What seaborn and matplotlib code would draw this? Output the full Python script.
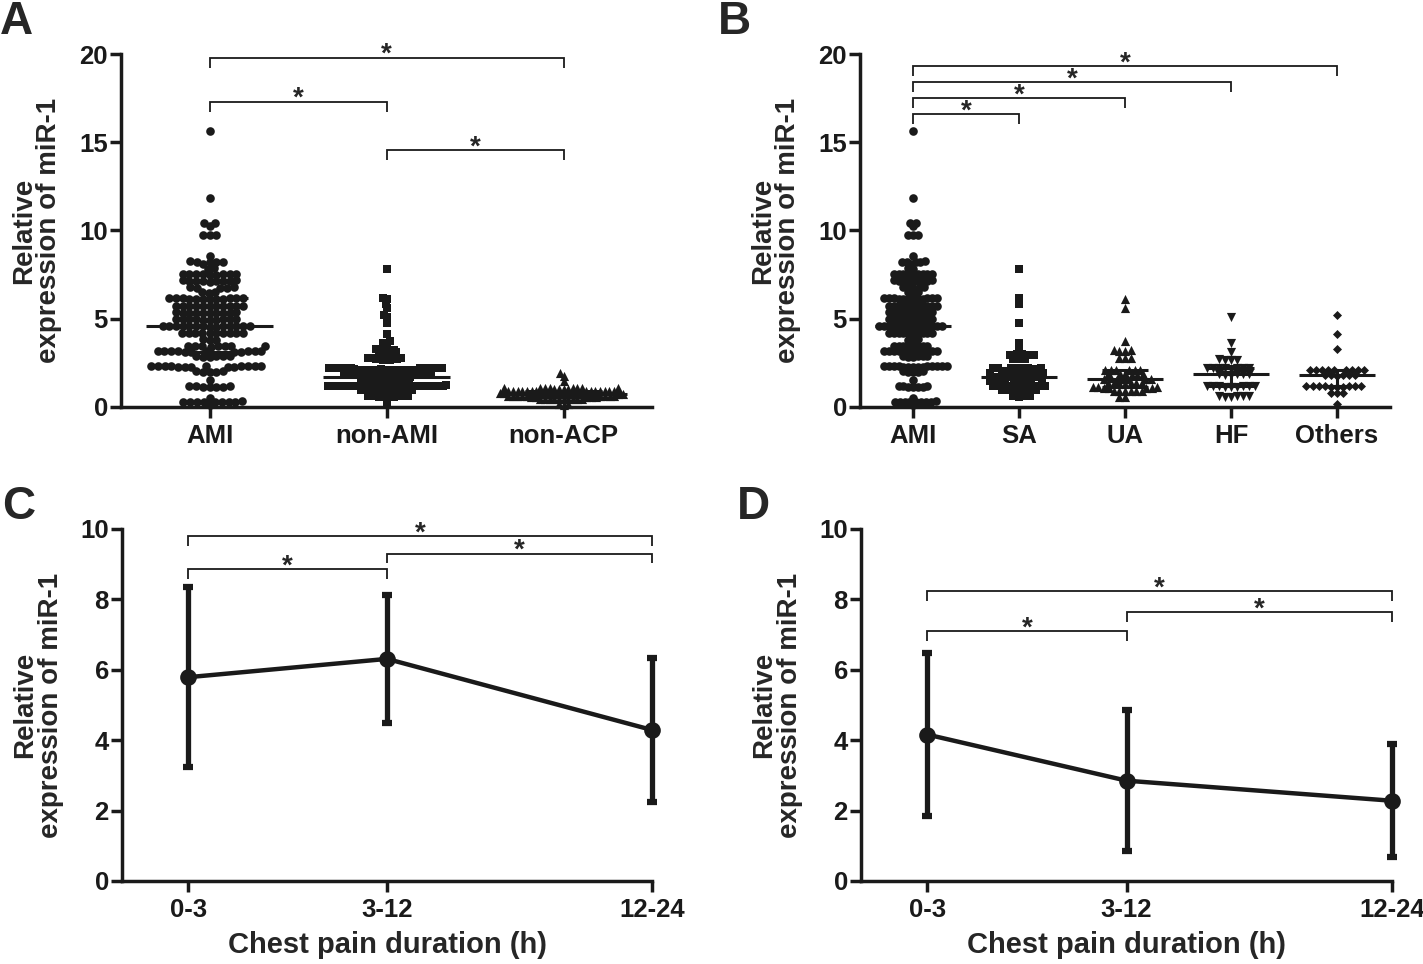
import matplotlib
matplotlib.use("Agg")
import matplotlib.pyplot as plt
from matplotlib import font_manager
import numpy as np
import pandas as pd
import seaborn as sns

# ---- panel A / B: relative miR-1 expression per patient group ----
ami = [
    15.65, 11.85, 10.45, 10.43, 10.25, 9.77, 9.75, 9.73, 8.57,
    8.24, 8.21, 8.19, 8.23, 8.28, 8.08, 7.86, 7.84,
    7.55, 7.53, 7.51, 7.54, 7.50, 7.52, 7.56, 7.49, 7.53,
    7.16, 7.14, 7.15, 7.12, 7.18, 7.15, 7.13, 7.17, 7.11,
    6.78, 6.77, 6.75, 6.80, 6.76, 6.52, 6.50, 6.48,
    6.15, 6.14, 6.16, 6.13, 6.15, 6.17, 6.12, 6.14, 6.16, 6.15, 6.13, 6.14,
    5.73, 5.71, 5.72, 5.74, 5.70, 5.72, 5.73, 5.71, 5.72, 5.74, 5.70,
    5.35, 5.33, 5.34, 5.36, 5.32, 5.34, 5.35, 5.33, 5.34, 5.36,
    4.97, 4.95, 4.96, 4.98, 4.94, 4.96, 4.97, 4.95, 4.96, 4.98,
    4.59, 4.57, 4.58, 4.60, 4.56, 4.58, 4.59, 4.57, 4.58, 4.60, 4.56, 4.58, 4.59, 4.57,
    4.21, 4.19, 4.20, 4.22, 4.18, 4.20, 4.21, 4.19, 4.20, 4.22,
    3.83, 3.81, 3.82,
    3.45, 3.43, 3.44, 3.46, 3.42, 3.44, 3.45, 3.43,
    3.16, 3.14, 3.15, 3.17, 3.13, 3.15, 3.16, 3.14, 3.15, 3.17, 3.13, 3.15,
    2.88, 2.86, 2.87, 2.89, 2.85, 2.87,
    2.31, 2.29, 2.30, 2.32, 2.28, 2.30, 2.31, 2.29, 2.30, 2.32, 2.28, 2.30, 2.31, 2.29,
    2.02, 2.00, 2.01, 2.03, 1.99,
    1.54,
    1.17, 1.15, 1.16, 1.18, 1.14, 1.16, 1.17,
    0.50,
    0.31, 0.29, 0.30, 0.32, 0.28, 0.30, 0.31, 0.29, 0.30,
    0.11,
]
sa = [
    7.80, 6.19, 5.81, 4.77, 3.63, 3.25,
    2.98, 2.96, 2.97, 2.99, 2.95, 2.73, 2.71, 2.72,
    2.21, 2.19, 2.20, 2.22, 2.18, 2.20, 2.21, 2.19,
    1.96, 1.94, 1.95, 1.97, 1.93, 1.95, 1.96, 1.94,
    1.71, 1.69, 1.70, 1.72, 1.68, 1.70, 1.71, 1.69,
    1.46, 1.44, 1.45, 1.47, 1.43, 1.45, 1.46, 1.44,
    1.21, 1.19, 1.20, 1.22, 1.18, 1.20, 1.21, 1.19,
    0.96, 0.94, 0.95, 0.97, 0.93, 0.95, 0.96,
    0.61, 0.59, 0.60, 0.62,
]
ua = [
    6.10, 5.62, 3.73, 3.21, 3.19, 3.20, 3.22, 2.79, 2.77, 2.78,
    2.11, 2.09, 2.10, 2.12, 2.08, 2.10,
    1.86, 1.84, 1.85, 1.87, 1.83, 1.85,
    1.61, 1.59, 1.60, 1.62, 1.58, 1.60, 1.61,
    1.36, 1.34, 1.35, 1.37, 1.33, 1.35, 1.36,
    1.11, 1.09, 1.10, 1.12, 1.08, 1.10, 1.11,
    0.91, 0.89, 0.90, 0.92, 0.88, 0.90,
    0.56, 0.54,
]
hf = [
    5.10, 3.63, 3.12, 2.69, 2.67, 2.68, 2.70,
    2.21, 2.19, 2.20, 2.22, 2.18, 2.20, 2.21, 2.19,
    1.86, 1.84, 1.85, 1.87, 1.83, 1.85,
    1.18, 1.16, 1.17, 1.19, 1.15, 1.17, 1.18, 1.16, 1.17,
    0.61, 0.59, 0.60, 0.62, 0.58, 0.60,
]
others = [
    5.24, 4.14, 3.29,
    2.11, 2.09, 2.10, 2.12, 2.08, 2.10, 2.11, 2.09, 2.10,
    1.81, 1.79, 1.80, 1.82, 1.78, 1.80,
    1.18, 1.16, 1.17, 1.19, 1.15, 1.17, 1.18, 1.16, 1.17, 1.19,
    0.81, 0.79, 0.80,
    0.17,
]
non_acp = [
    1.94, 1.75, 1.46,
    1.06, 1.04, 1.05, 1.07, 1.03, 1.05, 1.06, 1.04, 1.05, 1.07, 1.03, 1.05,
    0.91, 0.89, 0.90, 0.92, 0.88, 0.90, 0.91, 0.89, 0.90, 0.92, 0.88, 0.90, 0.91, 0.89,
    0.76, 0.74, 0.75, 0.77, 0.73, 0.75, 0.76, 0.74, 0.75, 0.77, 0.73, 0.75, 0.76, 0.74,
    0.61, 0.59, 0.60, 0.62, 0.58, 0.60, 0.61, 0.59, 0.60, 0.62, 0.58, 0.60, 0.61, 0.59,
    0.46, 0.44, 0.45, 0.47, 0.43, 0.45, 0.46, 0.44, 0.45, 0.47,
    0.16, 0.14, 0.15,
]
non_ami = sa + ua + hf + others

groups_a = ["AMI", "non-AMI", "non-ACP"]
groups_b = ["AMI", "SA", "UA", "HF", "Others"]

# ---- panel C / D: mean +/- SD by chest pain duration ----
durations = ["0-3", "3-12", "12-24"]
duration_pos = [1, 4, 8]
mean_c = [5.79, 6.31, 4.29]
sd_c = [2.56, 1.82, 2.04]
mean_d = [4.16, 2.85, 2.28]
sd_d = [2.32, 2.00, 1.60]

# significance pairs (group index pairs) and bracket heights
sig_a = [((0, 2), 19.8), ((0, 1), 17.3), ((1, 2), 14.55)]
sig_b = [((0, 4), 19.3), ((0, 3), 18.4), ((0, 2), 17.5), ((0, 1), 16.6)]
sig_c = [((0, 2), 9.8), ((1, 2), 9.3), ((0, 1), 8.85)]
sig_d = [((0, 2), 8.23), ((1, 2), 7.63), ((0, 1), 7.09)]


def _has_font(name):
    try:
        font_manager.findfont(font_manager.FontProperties(family=name), fallback_to_default=False)
        return True
    except ValueError:
        return False


NARROW = "Liberation Sans Narrow" if _has_font("Liberation Sans Narrow") else "Liberation Sans"
WIDE = ["Liberation Sans", "DejaVu Sans"]

sns.set_theme(style="ticks")
plt.rcParams["font.family"] = [NARROW, "DejaVu Sans"]
plt.rcParams["font.weight"] = "bold"
plt.rcParams["axes.labelweight"] = "bold"

fig = plt.figure(figsize=(14.23, 9.64), dpi=100)
W, H = 1423, 964


def add_axes(left, right, top, bottom):
    return fig.add_axes([left / W, 1 - bottom / H, (right - left) / W, (bottom - top) / H])


ax_a = add_axes(121, 652, 54, 407)
ax_b = add_axes(860, 1390, 54, 407)
ax_c = add_axes(122, 652, 529, 881)
ax_d = add_axes(861, 1392, 529, 881)


def style_axis(ax, ylim, yticks):
    ax.set_ylim(*ylim)
    ax.set_yticks(yticks)
    for side in ("top", "right"):
        ax.spines[side].set_visible(False)
    for side in ("left", "bottom"):
        ax.spines[side].set_linewidth(2.5)
        ax.spines[side].set_color("k")
    ax.tick_params(axis="both", direction="out", length=8, width=2.5, labelsize=18.5, colors="k")
    ax.tick_params(axis="y", pad=1.5)
    ax.tick_params(axis="x", pad=4)
    ax.set_ylabel("Relative\nexpression of miR-1", fontsize=20, fontweight="bold",
                  family=WIDE, labelpad=12, linespacing=0.95)


def bracket(ax, x1, x2, y, drop):
    ax.plot([x1, x1, x2, x2], [y - drop, y, y, y - drop], color="k", lw=1.3,
            clip_on=False, solid_joinstyle="miter", solid_capstyle="butt")
    ax.annotate("*", xy=((x1 + x2) / 2, y), xytext=(0, -3), textcoords="offset points",
                ha="center", va="baseline", fontsize=20, fontweight="bold",
                family=WIDE, annotation_clip=False)


def swarm(ax, groups, values, markers, layout_sizes):
    df = pd.DataFrame({
        "group": np.repeat(groups, [len(v) for v in values]),
        "value": np.concatenate([np.asarray(v, dtype=float) for v in values]),
    })
    made = []
    for g, m, s in zip(groups, markers, layout_sizes):
        n0 = len(ax.collections)
        sns.swarmplot(data=df[df["group"] == g], x="group", y="value", order=groups,
                      marker=m, size=s, color="k", linewidth=0, ax=ax)
        made.append((ax.collections[n0:], m))
    for pos, v in enumerate(values):
        q1, med, q3 = np.percentile(v, [25, 50, 75])
        ax.hlines(med, pos - 0.36, pos + 0.36, color="k", lw=2.2, zorder=5)
        ax.vlines(pos, q1, q3, color="k", lw=2.2, zorder=5)
        ax.hlines([q1, q3], pos - 0.22, pos + 0.22, color="k", lw=2.2, zorder=5)
    return made


show_size = {"o": 6.2, "s": 5.6, "^": 6.6, "v": 6.6, "D": 4.6}

swarms = []
swarms += swarm(ax_a, groups_a, [ami, non_ami, non_acp], ["o", "s", "^"], [4.6, 2.5, 3.2])
swarms += swarm(ax_b, groups_b, [ami, sa, ua, hf, others], ["o", "s", "^", "v", "D"],
                [3.3, 3.8, 3.8, 4.2, 4.2])

for ax, groups, sig in ((ax_a, groups_a, sig_a), (ax_b, groups_b, sig_b)):
    style_axis(ax, (0, 20), [0, 5, 10, 15, 20])
    ax.set_xlim(-0.5, len(groups) - 0.5)
    ax.set_xlabel("")
    ax.set_xticks(range(len(groups)))
    ax.set_xticklabels(groups)
    for (i, j), y in sig:
        bracket(ax, i, j, y, 0.57)

for ax, means, sds, sig in ((ax_c, mean_c, sd_c, sig_c), (ax_d, mean_d, sd_d, sig_d)):
    ax.errorbar(duration_pos, means, yerr=sds, fmt="none", ecolor="k", elinewidth=3.8,
                capsize=3.5, capthick=4.5, clip_on=False, zorder=3)
    sns.lineplot(x=duration_pos, y=means, color="k", lw=3.2, marker="o", markersize=12,
                 markeredgewidth=0, ax=ax, clip_on=False, zorder=4)
    style_axis(ax, (0, 10), [0, 2, 4, 6, 8, 10])
    ax.set_xlim(0, duration_pos[-1])
    ax.set_xticks(duration_pos)
    ax.set_xticklabels(durations)
    ax.set_xlabel("Chest pain duration (h)", fontsize=21, fontweight="bold", labelpad=7)
    for (i, j), y in sig:
        bracket(ax, duration_pos[i], duration_pos[j], y, 0.27)

# lay out the swarms once with the tight sizes, then show bigger overlapping marks
fig.canvas.draw()
for colls, m in swarms:
    for c in colls:
        if "draw" in c.__dict__:
            del c.draw
        c.set_sizes([show_size[m] ** 2])
        c.set_clip_on(False)

for label, x, y in (("A", 0, 0), ("B", 718, 0), ("C", 2, 485), ("D", 737, 485)):
    fig.text(x / W, 1 - y / H, label, ha="left", va="top", fontsize=33, fontweight="bold")

fig.savefig("out.png", dpi=100)
